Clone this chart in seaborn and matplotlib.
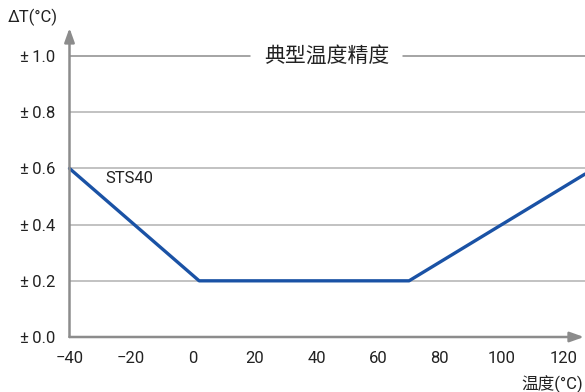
import matplotlib
matplotlib.use("Agg")
import matplotlib.pyplot as plt
import seaborn as sns
import pandas as pd

# Accuracy curve of the STS40 sensor
temperature = [-40, 2, 70, 127]
accuracy = [0.6, 0.2, 0.2, 0.58]
x_ticks = [-40, -20, 0, 20, 40, 60, 80, 100, 120]
y_ticks = [0.0, 0.2, 0.4, 0.6, 0.8, 1.0]
y_tick_labels = ["±\u20090.0", "±\u20090.2", "±\u20090.4", "±\u20090.6", "±\u20090.8", "±\u20091.0"]
title = "典型温度精度"
series_name = "STS40"
x_label = "温度(°C)"
y_label = "ΔT(°C)"

sns.set_theme(style="white")
plt.rcParams["font.family"] = ["Roboto", "Noto Sans CJK SC", "DejaVu Sans"]

df = pd.DataFrame({"temp": temperature, "acc": accuracy})

fig = plt.figure(figsize=(5.85, 3.92), dpi=100)
ax = fig.add_axes([0.1188, 0.1403, 0.8812, 0.7883])

axis_grey = "#8c8c8c"
grid_grey = "#bdbdbd"
text_col = "#222222"

ax.set_xlim(-40, 127)
ax.set_ylim(0, 1.1)

# horizontal guide lines
for v in y_ticks[1:-1]:
    ax.axhline(v, color=grid_grey, lw=1.3, zorder=1)
# top guide line interrupted by the title
ax.plot([-40, 18.5], [1.0, 1.0], color=axis_grey, lw=1.1, zorder=1)
ax.plot([68, 127], [1.0, 1.0], color=axis_grey, lw=1.1, zorder=1)
ax.text(43.2, 1.0, title, ha="center", va="center", fontsize=15,
        color=text_col, family=["Noto Sans CJK SC"])

sns.lineplot(data=df, x="temp", y="acc", ax=ax, color="#1a52a5", lw=2.4,
             zorder=3, clip_on=False)
ax.text(-28.5, 0.563, series_name, fontsize=12, color=text_col, va="center")

ax.set_xticks(x_ticks)
ax.set_xticklabels([str(t).replace("-", "\u2212") for t in x_ticks], fontsize=12,
                   color=text_col)
ax.set_yticks(y_ticks)
ax.set_yticklabels(y_tick_labels, fontsize=12, color=text_col)
ax.tick_params(axis="both", length=0)
ax.tick_params(axis="x", pad=10)
ax.tick_params(axis="y", pad=10.5)
ax.set_xlabel("")
ax.set_ylabel("")
for s in ax.spines.values():
    s.set_visible(False)

# axis arrows
arrow = dict(arrowstyle="-|>,head_length=0.7,head_width=0.25", color=axis_grey,
             lw=1.8, shrinkA=0, shrinkB=0)
ax.annotate("", xy=(0, 1.0), xytext=(0, 0), xycoords="axes fraction",
            textcoords="axes fraction", arrowprops=arrow, annotation_clip=False)
ax.annotate("", xy=(0.998, 0), xytext=(0, 0), xycoords="axes fraction",
            textcoords="axes fraction", arrowprops=arrow, annotation_clip=False)

fig.text(8 / 585, 1 - 17 / 392, y_label, fontsize=12, color=text_col,
         ha="left", va="center")
fig.text(583 / 585, 1 - 384 / 392, x_label, fontsize=12, color=text_col,
         ha="right", va="center")

fig.savefig("out.png", dpi=100)
